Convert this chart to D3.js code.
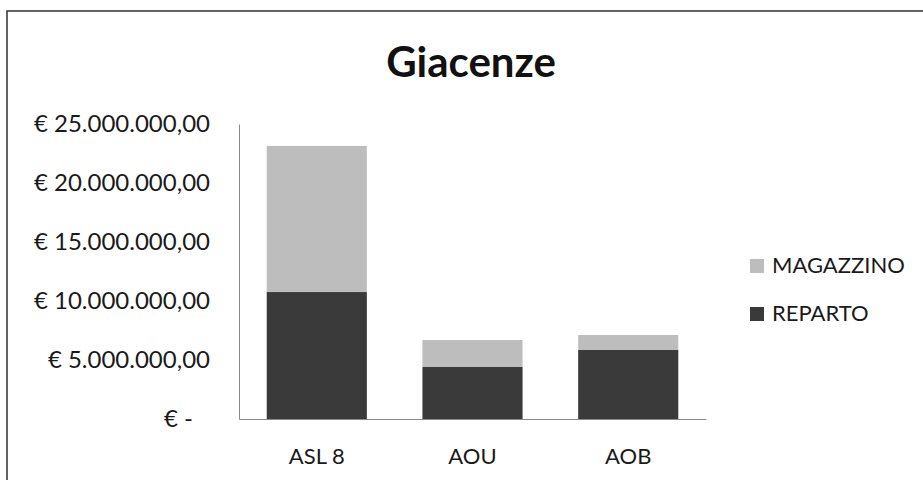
<!DOCTYPE html>
<html>
<head>
<meta charset="utf-8">
<script src="https://cdn.jsdelivr.net/npm/d3@7"></script>
<style>
  body { margin: 0; background: #fff; }
  svg { display: block; font-family: Lato, "Open Sans", sans-serif; }
</style>
</head>
<body>
<main></main>
<script>
const w = 923;
const h = 480;

// data (euro)
const categories = ["ASL 8", "AOU", "AOB"];
const reparto = [10760000, 4410000, 5850000];
const magazzino = [12380000, 2280000, 1270000];
const yTicks = [0, 5000000, 10000000, 15000000, 20000000, 25000000];
const seriesNames = ["MAGAZZINO", "REPARTO"];
const seriesColors = { REPARTO: "#3a3a3a", MAGAZZINO: "#bdbdbd" };

const it = d3.formatLocale({ decimal: ",", thousands: ".", grouping: [3], currency: ["€ ", ""] });
const euro = it.format("$,.2f");

const svg = d3.select("main")
  .append("svg")
  .attr("width", w)
  .attr("height", h);

// outer frame of the chart area
svg.append("rect")
  .attr("x", 7)
  .attr("y", 11)
  .attr("width", 930)
  .attr("height", 500)
  .attr("fill", "none")
  .attr("stroke", "#3c3c3c")
  .attr("stroke-width", 1.6);

// title
svg.append("text")
  .attr("x", 471)
  .attr("y", 77)
  .attr("text-anchor", "middle")
  .attr("font-size", 42)
  .attr("font-weight", "bold")
  .attr("fill", "#111")
  .text("Giacenze");

const xScale = d3.scaleBand()
  .domain(categories)
  .range([239, 706])
  .paddingInner(0.357)
  .paddingOuter(0.178);

const yScale = d3.scaleLinear()
  .domain([0, 25000000])
  .range([419, 124]);

// stacked bars, reparto at the bottom
const rows = categories.map((c, i) => ({ cat: c, REPARTO: reparto[i], MAGAZZINO: magazzino[i] }));
const stacked = d3.stack().keys(["REPARTO", "MAGAZZINO"])(rows);

svg.append("g")
  .selectAll("g")
  .data(stacked)
  .enter()
  .append("g")
  .attr("fill", d => seriesColors[d.key])
  .selectAll("rect")
  .data(d => d)
  .enter()
  .append("rect")
  .attr("x", d => xScale(d.data.cat))
  .attr("width", xScale.bandwidth())
  .attr("y", d => yScale(d[1]))
  .attr("height", d => yScale(d[0]) - yScale(d[1]));

// y axis
const yAxis = d3.axisLeft(yScale)
  .tickValues(yTicks)
  .tickSize(0)
  .tickSizeOuter(0)
  .tickPadding(29)
  .tickFormat(d => d === 0 ? "€ -" : euro(d));

const gy = svg.append("g")
  .attr("transform", "translate(239,0)")
  .call(yAxis);
gy.select(".domain").attr("stroke", "#8a8a8a").attr("stroke-width", 1);
gy.selectAll("text")
  .attr("font-size", 24)
  .attr("font-family", "Lato, sans-serif")
  .attr("fill", "#1a1a1a")
  .attr("dx", d => d === 0 ? -17 : 0);

// x axis
const xAxis = d3.axisBottom(xScale)
  .tickSize(0)
  .tickSizeOuter(0)
  .tickPadding(29);

const gx = svg.append("g")
  .attr("transform", "translate(0,419)")
  .call(xAxis);
gx.select(".domain").attr("stroke", "#8a8a8a").attr("stroke-width", 1);
gx.selectAll("text")
  .attr("font-size", 22)
  .attr("font-family", "Lato, sans-serif")
  .attr("fill", "#1a1a1a");

// legend
const legend = svg.append("g")
  .attr("transform", "translate(750,259)");
legend.selectAll("rect")
  .data(seriesNames)
  .enter()
  .append("rect")
  .attr("width", 14)
  .attr("height", 14)
  .attr("y", (d, i) => i * 48)
  .attr("fill", d => seriesColors[d]);
legend.selectAll("text")
  .data(seriesNames)
  .enter()
  .append("text")
  .attr("x", 22)
  .attr("y", (d, i) => i * 48 + 14)
  .attr("font-size", 22)
  .attr("fill", "#1a1a1a")
  .text(d => d);
</script>
</body>
</html>
